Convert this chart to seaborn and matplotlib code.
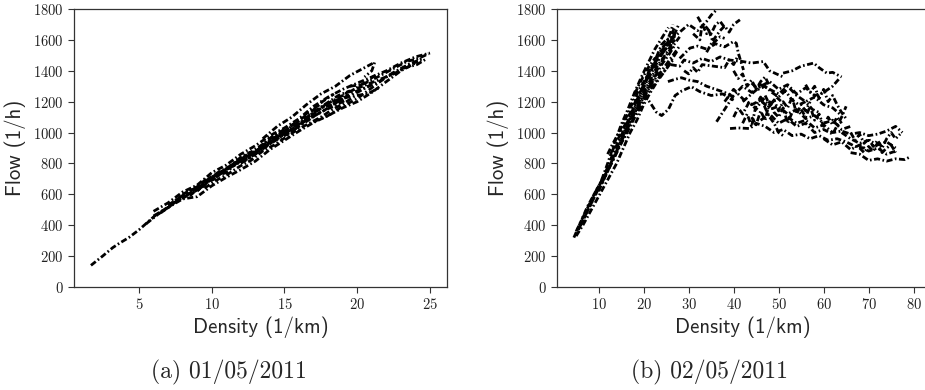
import matplotlib
matplotlib.use("Agg")
import matplotlib.pyplot as plt
import seaborn as sns
import pandas as pd

# ---------------- data ----------------
# Panel (a) 01/05/2011 : (density 1/km, flow 1/h) trajectories
a1 = [(1.7, 140), (2.5, 200), (3.2, 255), (3.6, 280), (4.3, 320), (5.0, 370), (5.6, 420),
      (6.2, 470), (6.8, 505), (7.4, 545), (8.0, 580), (8.6, 610), (9.2, 640), (9.8, 690),
      (10.4, 720), (11.0, 760), (11.6, 790), (12.2, 830), (12.8, 860), (13.4, 900),
      (14.0, 930), (14.6, 975), (15.2, 1000)]
a2 = [(6.0, 460), (7.0, 515), (8.0, 570), (9.0, 585), (10.0, 655), (11.0, 710), (12.0, 760),
      (13.0, 815), (14.0, 890), (15.0, 950), (16.0, 1010), (17.0, 1065), (18.0, 1110),
      (19.0, 1160), (20.0, 1200), (21.0, 1260), (22.0, 1330), (23.0, 1400), (24.0, 1450)]
a3 = [(6.0, 490), (7.0, 545), (8.0, 615), (9.0, 660), (10.0, 740), (11.0, 790), (12.0, 860),
      (13.0, 915), (14.0, 980), (15.0, 1030), (16.0, 1090), (17.0, 1170), (18.0, 1230),
      (19.0, 1280), (20.0, 1320), (21.0, 1360), (22.0, 1400), (23.0, 1450), (24.0, 1490),
      (25.0, 1515)]
a4 = [(13.5, 960), (14.5, 1040), (15.5, 1100), (16.5, 1180), (17.5, 1250), (18.5, 1300),
      (19.5, 1370), (20.5, 1420), (21.2, 1455), (21.0, 1400), (20.5, 1360)]
a5 = [(17.0, 1070), (18.0, 1110), (19.0, 1170), (20.0, 1220), (21.0, 1290), (22.0, 1360),
      (22.8, 1400), (23.6, 1440), (24.4, 1470)]
a6 = [(6.5, 480), (7.5, 550), (8.5, 600), (9.5, 690), (10.5, 730), (11.5, 800), (12.5, 850),
      (13.5, 910), (14.5, 970), (15.5, 1020), (16.5, 1080), (17.5, 1130), (18.5, 1190),
      (19.5, 1250), (20.5, 1290), (21.5, 1330), (22.5, 1390), (23.5, 1440), (24.5, 1480)]
a7 = [(8.5, 590), (9.3, 660), (10.2, 700), (11.0, 760), (11.8, 820), (12.6, 830), (13.4, 890),
      (14.2, 940), (15.0, 990), (15.8, 1040), (16.6, 1100), (17.4, 1150), (18.2, 1200),
      (19.0, 1240), (19.8, 1280), (20.6, 1330), (21.4, 1380)]
a8 = [(9.0, 620), (9.8, 700), (10.6, 740), (11.4, 780), (12.2, 850), (13.0, 870), (13.8, 950),
      (14.6, 1000), (15.4, 1000), (16.2, 1060), (17.0, 1120), (17.8, 1180), (18.6, 1210),
      (19.4, 1230), (20.2, 1270), (21.0, 1310)]
a9 = [(7.0, 530), (7.8, 580), (8.6, 630), (9.4, 650), (10.2, 720), (11.0, 740), (11.8, 810),
      (12.6, 870), (13.4, 880), (14.2, 960), (15.0, 1010), (15.8, 1060), (16.6, 1130),
      (17.4, 1180)]
a10 = [(19.5, 1300), (20.3, 1310), (21.0, 1340), (21.8, 1380), (22.6, 1420), (23.4, 1460),
       (24.2, 1480), (24.9, 1510)]
a11 = [(5.5, 410), (6.3, 470), (7.1, 520), (7.9, 590), (8.7, 610), (9.5, 670), (10.3, 710),
       (11.1, 770), (11.9, 820), (12.7, 840), (13.5, 920), (14.3, 960), (15.1, 1010),
       (15.9, 1050), (16.7, 1110), (17.5, 1160), (18.3, 1180), (19.1, 1220)]
a12 = [(7.5, 560), (8.3, 600), (9.1, 630), (9.9, 710), (10.7, 750), (11.5, 790), (12.3, 820),
       (13.1, 880), (13.9, 940), (14.7, 990), (15.5, 1040), (16.3, 1070), (17.1, 1140),
       (17.9, 1190), (18.7, 1240), (19.5, 1270)]
a13 = [(8.0, 600), (8.8, 640), (9.6, 680), (10.4, 740), (11.2, 780), (12.0, 840), (12.8, 880),
       (13.6, 930), (14.4, 990), (15.2, 1030), (16.0, 1080), (16.8, 1130), (17.6, 1200),
       (18.4, 1250)]
a14 = [(9.5, 640), (10.3, 690), (11.1, 730), (11.9, 780), (12.7, 820), (13.5, 880), (14.3, 920),
       (15.1, 970), (15.9, 1020), (16.7, 1060), (17.5, 1100), (18.3, 1150), (19.1, 1190),
       (19.9, 1240), (20.7, 1250), (21.5, 1290)]
a15 = [(18.5, 1200), (19.3, 1260), (20.1, 1290), (20.9, 1320), (21.7, 1350), (22.5, 1380),
       (23.3, 1420), (24.1, 1440), (24.8, 1480)]
a16 = [(12.0, 800), (12.8, 850), (13.6, 900), (14.4, 950), (15.2, 990), (16.0, 1040),
       (16.8, 1090), (17.6, 1140), (18.4, 1170), (19.2, 1210)]

# Panel (b) 02/05/2011
b1 = [(4.5, 320), (6.0, 420), (7.5, 520), (9.0, 600), (10.5, 680), (12.0, 800), (13.5, 930),
      (15.0, 1050), (16.5, 1150), (18.0, 1260), (19.5, 1360), (21.0, 1450), (22.5, 1540),
      (24.0, 1610), (25.5, 1680)]
b2 = [(5.0, 330), (6.5, 400), (8.0, 480), (9.5, 560), (11.0, 640), (12.5, 720), (14.0, 800),
      (15.5, 900), (17.0, 1000), (18.5, 1080), (20.0, 1180), (21.5, 1260), (23.0, 1330),
      (24.5, 1390), (26.0, 1460), (27.5, 1530)]
b3 = [(5.5, 370), (7.0, 460), (8.5, 560), (10.0, 650), (11.5, 740), (13.0, 850), (14.5, 950),
      (16.0, 1040), (17.5, 1140), (19.0, 1230), (20.5, 1320), (22.0, 1400), (23.5, 1480),
      (25.0, 1550), (26.5, 1610), (27.8, 1700)]
b4 = [(12.0, 860), (13.0, 920), (14.5, 1000), (16.0, 1090), (17.5, 1190), (19.0, 1280),
      (20.5, 1350), (21.5, 1420), (23.0, 1470), (24.0, 1530), (25.0, 1560), (26.0, 1590),
      (27.0, 1640)]
b5 = [(14.0, 880), (15.0, 950), (16.5, 1060), (18.0, 1160), (19.0, 1230), (20.0, 1300),
      (21.0, 1380), (22.0, 1430), (23.0, 1500), (24.0, 1570), (25.0, 1600), (26.5, 1620)]
b6 = [(16.0, 1010), (17.5, 1100), (19.0, 1180), (20.5, 1250), (22.0, 1330), (23.5, 1380),
      (25.0, 1440), (26.5, 1500), (28.0, 1560)]
b7 = [(18.0, 1250), (19.5, 1340), (21.0, 1420), (22.5, 1480), (24.0, 1510), (25.5, 1560),
      (27.0, 1600)]
b8 = [(26.0, 1600), (28.0, 1650), (30.0, 1700), (32.0, 1660), (34.0, 1720), (35.0, 1760),
      (36.2, 1795)]
b9 = [(31.0, 1640), (32.5, 1600), (33.0, 1700), (34.0, 1640), (34.5, 1660), (35.5, 1580),
      (37.0, 1620), (38.0, 1610)]
b10 = [(34.0, 1520), (35.5, 1600), (37.0, 1660), (38.0, 1690), (39.0, 1650), (40.0, 1700),
       (41.4, 1730)]
b11 = [(28.0, 1480), (30.3, 1547), (32.0, 1560), (34.0, 1540), (36.0, 1575), (38.0, 1555),
       (40.0, 1590), (40.6, 1578), (41.0, 1520), (41.5, 1470), (42.2, 1405)]
b12 = [(26.0, 1440), (28.0, 1430), (29.0, 1470), (31.0, 1450), (33.0, 1480), (35.0, 1460),
       (37.0, 1490), (39.0, 1470), (42.0, 1460), (44.0, 1450), (46.6, 1460), (48.0, 1400),
       (51.0, 1360)]
b13 = [(51.0, 1385), (53.0, 1400), (55.0, 1430), (57.8, 1450), (59.0, 1420), (60.7, 1385),
       (62.0, 1390), (64.0, 1360)]
b14 = [(25.4, 1330), (27.0, 1345), (28.4, 1355), (30.0, 1340), (32.0, 1330), (34.0, 1300),
       (36.0, 1280), (38.0, 1260), (40.0, 1230)]
b15 = [(20.0, 1250), (21.4, 1196), (22.8, 1133), (24.0, 1110), (25.5, 1150), (27.0, 1240),
       (28.5, 1270), (30.6, 1297), (32.5, 1265), (35.0, 1240), (37.6, 1250), (40.0, 1210)]
b16 = [(36.2, 1070), (38.0, 1150), (40.0, 1240), (42.0, 1300), (44.0, 1260), (46.0, 1310),
       (48.0, 1280), (50.0, 1250), (52.0, 1300), (54.0, 1240), (56.0, 1200), (58.0, 1230),
       (60.0, 1180), (62.0, 1160), (64.0, 1110)]
b17 = [(38.0, 1200), (40.0, 1280), (42.0, 1220), (44.0, 1180), (46.0, 1210), (48.0, 1150),
       (50.0, 1170), (52.0, 1120), (54.0, 1150), (56.0, 1090), (58.0, 1110), (60.0, 1060),
       (62.0, 1080), (64.0, 1020), (66.0, 1040)]
b18 = [(39.2, 1026), (41.0, 1030), (43.6, 1026), (45.0, 1060), (47.0, 1040), (49.0, 1000),
       (51.0, 1020), (53.0, 980), (55.0, 990), (57.0, 960), (59.0, 980), (61.0, 950),
       (63.0, 960), (65.0, 940), (67.0, 910), (69.0, 900)]
b19 = [(42.0, 1200), (44.0, 1250), (46.0, 1300), (48.0, 1330), (50.0, 1280), (52.0, 1310),
       (54.0, 1250), (56.0, 1290), (58.0, 1240), (60.0, 1260), (62.0, 1300), (63.5, 1350)]
b20 = [(52.0, 1100), (54.0, 1060), (56.0, 1080), (58.0, 1030), (60.0, 1050), (62.0, 1000),
       (64.0, 1010), (66.0, 990), (68.0, 1000), (70.0, 980), (72.0, 990), (74.0, 1010),
       (76.0, 1040), (77.5, 1000)]
b21 = [(60.0, 960), (62.0, 920), (64.0, 940), (66.0, 890), (68.0, 920), (70.0, 880),
       (72.0, 900), (74.0, 860), (76.0, 880)]
b22 = [(66.0, 870), (68.0, 860), (70.0, 820), (72.0, 830), (74.0, 815), (76.0, 830),
       (78.0, 825), (79.4, 845)]
b23 = [(64.0, 1000), (66.0, 960), (68.0, 930), (70.0, 950), (72.0, 920), (74.0, 940),
       (76.0, 900)]
b24 = [(40.0, 1100), (41.0, 1160), (42.0, 1120), (43.5, 1200), (45.0, 1150), (46.5, 1220),
       (48.0, 1170), (49.5, 1230), (51.0, 1190)]
b25 = [(44.0, 1320), (45.5, 1280), (47.0, 1300), (48.5, 1260), (50.0, 1230), (51.5, 1270),
       (53.0, 1210), (54.5, 1180), (56.0, 1200), (57.5, 1150), (59.0, 1130)]
b26 = [(46.0, 1080), (48.0, 1120), (50.0, 1060), (52.0, 1090), (54.0, 1040), (56.0, 1060),
       (58.0, 1000), (60.0, 1020), (62.0, 990), (64.0, 1100), (65.0, 1170)]
b27 = [(5.0, 360), (6.5, 450), (8.0, 540), (9.5, 630), (11.0, 700), (12.5, 790), (14.0, 880),
       (15.5, 990), (17.0, 1090), (18.5, 1170), (20.0, 1260), (21.5, 1340), (23.0, 1430),
       (24.5, 1490), (26.0, 1560), (27.0, 1660)]
b28 = [(6.0, 400), (7.5, 490), (9.0, 580), (10.5, 660), (12.0, 750), (13.5, 840), (15.0, 930),
       (16.5, 1010), (18.0, 1110), (19.5, 1190), (21.0, 1280), (22.5, 1360), (24.0, 1440),
       (25.5, 1500), (26.8, 1560)]
b29 = [(8.0, 520), (9.5, 610), (11.0, 690), (12.5, 780), (14.0, 900), (15.5, 1000),
       (17.0, 1100), (18.5, 1210), (20.0, 1310), (21.5, 1400), (23.0, 1460), (24.5, 1540),
       (26.0, 1620), (27.0, 1690)]
b30 = [(13.0, 880), (14.5, 970), (16.0, 1060), (17.5, 1160), (19.0, 1250), (20.5, 1330),
       (22.0, 1420), (23.5, 1520), (25.0, 1580), (26.0, 1650), (26.5, 1700)]
b31 = [(15.0, 940), (16.5, 1030), (18.0, 1130), (19.5, 1220), (21.0, 1300), (22.5, 1380),
       (24.0, 1460), (25.5, 1520), (27.0, 1580), (28.0, 1620)]
b32 = [(10.0, 620), (11.5, 720), (13.0, 810), (14.5, 900), (16.0, 990), (17.5, 1070),
       (19.0, 1150), (20.5, 1230), (22.0, 1300), (23.5, 1360), (25.0, 1410), (26.5, 1470)]
b33 = [(44.0, 1100), (45.0, 1050), (46.0, 1140), (47.0, 1080), (48.0, 1200), (49.0, 1130),
       (50.0, 1100), (51.0, 1160), (52.0, 1060), (53.0, 1130)]
b34 = [(55.0, 1150), (56.0, 1100), (57.0, 1170), (58.0, 1080), (59.0, 1120), (60.0, 1040),
       (61.0, 1100), (62.0, 1050), (63.0, 1100), (64.0, 1060)]
b35 = [(66.0, 1000), (67.0, 950), (68.0, 990), (69.0, 930), (70.0, 960), (71.0, 910),
       (72.0, 950), (73.0, 900), (74.0, 960), (75.0, 1000), (76.0, 960), (77.0, 990)]
b36 = [(68.0, 900), (69.0, 870), (70.0, 910), (71.0, 880), (72.0, 930), (73.0, 870),
       (74.0, 900), (75.0, 920), (76.0, 870)]
b37 = [(40.0, 1400), (41.0, 1350), (42.0, 1380), (43.0, 1300), (44.0, 1340), (45.0, 1280),
       (46.0, 1330), (47.0, 1360), (48.0, 1300)]
b38 = [(32.0, 1750), (33.0, 1700), (34.0, 1680), (35.0, 1640), (36.0, 1700), (37.0, 1720),
       (38.0, 1680)]
b39 = [(47.0, 1240), (48.0, 1180), (49.0, 1210), (50.0, 1140), (51.0, 1200), (52.0, 1160),
       (53.0, 1230), (54.0, 1120), (55.0, 1180), (56.0, 1140), (57.0, 1200)]
b40 = [(42.0, 1060), (43.0, 1120), (44.0, 1040), (45.0, 1180), (46.0, 1230), (47.0, 1160),
       (48.0, 1100), (49.0, 1060), (50.0, 1000), (51.0, 980)]
b41 = [(29.0, 1400), (30.0, 1380), (31.0, 1420), (32.0, 1390), (33.0, 1440), (38.0, 1420),
       (39.0, 1470), (40.0, 1440), (41.0, 1500)]
b42 = [(56.0, 1310), (57.0, 1260), (58.0, 1300), (59.0, 1220), (60.0, 1280), (61.0, 1200),
       (62.0, 1240), (63.0, 1180), (64.0, 1130), (65.0, 1090)]

panel_a = [a1, a2, a3, a4, a5, a6, a7, a8, a9, a10, a11, a12, a13, a14, a15, a16]
panel_b = [b1, b2, b3, b4, b5, b6, b7, b8, b9, b10, b11, b12, b13, b14, b15, b16, b17,
           b18, b19, b20, b21, b22, b23, b24, b25, b26, b27, b28, b29, b30, b31, b32,
           b33, b34, b35, b36, b37, b38, b39, b40, b41, b42]

x_label = "Density (1/km)"
y_label = "Flow (1/h)"
captions = ["(a) 01/05/2011", "(b) 02/05/2011"]
xticks_a = [5, 10, 15, 20, 25]
xticks_b = [10, 20, 30, 40, 50, 60, 70, 80]
yticks = list(range(0, 1801, 200))


def to_frame(trajs):
    rows = []
    for i, tr in enumerate(trajs):
        for d, f in tr:
            rows.append({"traj": i, "density": d, "flow": f})
    return pd.DataFrame(rows)


sns.set_style("ticks")
plt.rcParams["font.family"] = ["cmr10", "DejaVu Serif"]
plt.rcParams["axes.formatter.use_mathtext"] = True

fig = plt.figure(figsize=(9.25, 3.9), dpi=100)
ax_a = fig.add_axes([0.080, 0.2641, 0.4032, 0.7128])
ax_b = fig.add_axes([0.6022, 0.2641, 0.4008, 0.7128])

for ax, trajs, xt in [(ax_a, panel_a, xticks_a), (ax_b, panel_b, xticks_b)]:
    df = to_frame(trajs)
    sns.lineplot(data=df, x="density", y="flow", units="traj", estimator=None,
                 sort=False, color="black", linestyle=(0, (2.2, 0.9, 0.6, 0.9)),
                 linewidth=2.0, ax=ax)
    ax.set_ylim(0, 1800)
    ax.set_yticks(yticks)
    ax.set_xticks(xt)
    ax.set_xlabel(x_label, family="cmss10", fontsize=15, labelpad=3)
    ax.set_ylabel(y_label, family="cmss10", fontsize=15, labelpad=5)
    ax.tick_params(labelsize=10.5, length=4, width=0.8, colors="#333333", labelcolor="#222222")
    for s in ax.spines.values():
        s.set_color("#333333")
        s.set_linewidth(0.9)

fig.text(0.2476, 0.046, captions[0], ha="center", va="center", fontsize=17, family="cmr10")
fig.text(0.7665, 0.046, captions[1], ha="center", va="center", fontsize=17, family="cmr10")

fig.savefig("out.png", dpi=100)
